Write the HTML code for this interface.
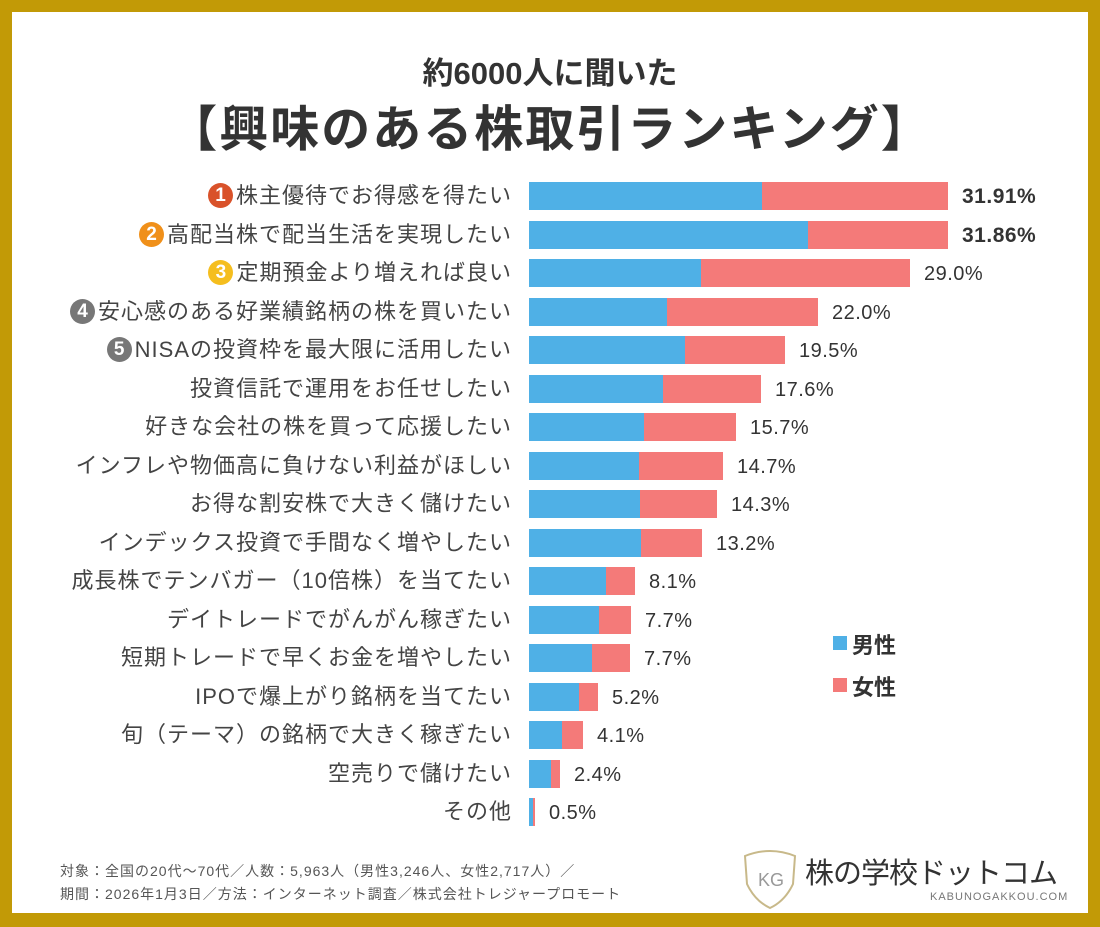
<!DOCTYPE html>
<html><head><meta charset="utf-8"><style>
*{margin:0;padding:0;box-sizing:border-box}
body{width:1100px;height:927px;background:#c29a06;position:relative;overflow:hidden;font-family:"Liberation Sans","Noto Sans CJK JP",sans-serif}
#in{position:absolute;left:12px;top:12px;width:1076px;height:901px;background:#fff}
.a{position:absolute;white-space:nowrap}
.lab{right:588px;font-size:22px;letter-spacing:1px;color:#444;text-align:right;line-height:28px}
.bar{position:absolute;height:28px}
.v{font-size:20px;letter-spacing:.5px;color:#333;line-height:28px}
.n{display:inline-block;width:25px;height:25px;border-radius:50%;color:#fff;font-weight:bold;font-size:19px;letter-spacing:0;text-align:center;line-height:25px;vertical-align:2px;margin-right:3px}
</style></head><body><div id="in"></div>
<div class="a" style="left:0;width:1100px;text-align:center;top:48px;font-size:31px;font-weight:bold;color:#333">約6000人に聞いた</div>
<div class="a" style="left:0;width:1100px;text-align:center;top:90px;font-size:49px;font-weight:bold;color:#333;letter-spacing:2px">【興味のある株取引ランキング】</div>
<div id="rows"></div>
<div class="a" style="left:833px;top:636px;width:14px;height:14px;background:#4fb0e6"></div>
<div class="a" style="left:852px;top:628px;font-size:22px;font-weight:bold;color:#333">男性</div>
<div class="a" style="left:833px;top:678px;width:14px;height:14px;background:#f47a79"></div>
<div class="a" style="left:852px;top:670px;font-size:22px;font-weight:bold;color:#333">女性</div>
<div class="a" style="left:60px;top:860px;font-size:14px;letter-spacing:1px;color:#555;line-height:23px">対象：全国の20代〜70代／人数：5,963人（男性3,246人、女性2,717人）／<br>期間：2026年1月3日／方法：インターネット調査／株式会社トレジャープロモート</div>
<svg class="a" style="left:740px;top:846px" width="60" height="66"><path d="M5 10 Q30 0 55 10 L53 38 Q45 55 30 62 Q15 55 7 38 Z" fill="none" stroke="#c8b98a" stroke-width="2"/><text x="18" y="40" font-size="18" fill="#999" font-family="Liberation Sans">KG</text></svg>
<div class="a" style="left:805px;top:850px;font-size:29px;color:#333;letter-spacing:-1px">株の学校ドットコム</div>
<div class="a" style="left:930px;top:891px;font-size:11px;color:#777;letter-spacing:1px">KABUNOGAKKOU.COM</div>
<script>
const d=[["株主優待でお得感を得たい",762,948,"31.91%",1,"#d9522a"],["高配当株で配当生活を実現したい",808,948,"31.86%",2,"#f0901a"],["定期預金より増えれば良い",701,910,"29.0%",3,"#f5be1e"],["安心感のある好業績銘柄の株を買いたい",667,818,"22.0%",4,"#777"],["NISAの投資枠を最大限に活用したい",685,785,"19.5%",5,"#777"],["投資信託で運用をお任せしたい",663,761,"17.6%"],["好きな会社の株を買って応援したい",644,736,"15.7%"],["インフレや物価高に負けない利益がほしい",639,723,"14.7%"],["お得な割安株で大きく儲けたい",640,717,"14.3%"],["インデックス投資で手間なく増やしたい",641,702,"13.2%"],["成長株でテンバガー（10倍株）を当てたい",606,635,"8.1%"],["デイトレードでがんがん稼ぎたい",599,631,"7.7%"],["短期トレードで早くお金を増やしたい",592,630,"7.7%"],["IPOで爆上がり銘柄を当てたい",579,598,"5.2%"],["旬（テーマ）の銘柄で大きく稼ぎたい",562,583,"4.1%"],["空売りで儲けたい",551,560,"2.4%"],["その他",533,535,"0.5%"]];
let h="";d.forEach((r,i)=>{const y=182+i*38.5;
h+=`<div class="a lab" style="top:${y}px">${r[4]?`<span class="n" style="background:${r[5]}">${r[4]}</span>`:""}${r[0]}</div>`;
h+=`<div class="bar" style="left:529px;top:${y}px;width:${r[1]-529}px;background:#4fb0e6"></div><div class="bar" style="left:${r[1]}px;top:${y}px;width:${r[2]-r[1]}px;background:#f47a79"></div>`;
h+=`<div class="a v" style="left:${r[2]+14}px;top:${y+1}px;${i<2?"font-weight:bold;font-size:21px":""}">${r[3]}</div>`;});
document.getElementById("rows").innerHTML=h;
</script></body></html>
